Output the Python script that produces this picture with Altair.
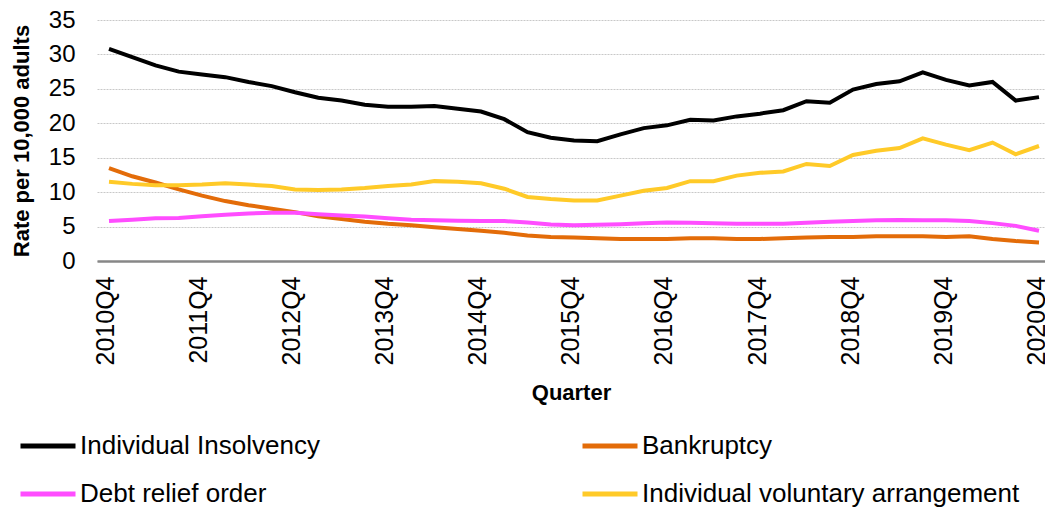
import altair as alt
import pandas as pd

# Quarters 2010Q4 .. 2020Q4
quarters = ["2010Q4"] + [f"{y}Q{q}" for y in range(2011, 2021) for q in (1, 2, 3, 4)]
tick_labels = ["2010Q4", "2011Q4", "2012Q4", "2013Q4", "2014Q4", "2015Q4",
               "2016Q4", "2017Q4", "2018Q4", "2019Q4", "2020Q4"]

series_names = ["Individual Insolvency", "Bankruptcy", "Debt relief order",
                "Individual voluntary arrangement"]
series_colors = ["#000000", "#E36C09", "#FF4DFF", "#FFCA28"]

insolvency = [30.8, 29.6, 28.4, 27.5, 27.1, 26.7, 26.0, 25.4, 24.5, 23.7,
              23.3, 22.7, 22.4, 22.4, 22.5, 22.1, 21.7, 20.6, 18.7, 17.9,
              17.5, 17.4, 18.4, 19.3, 19.7, 20.5, 20.4, 21.0, 21.4, 21.9,
              23.2, 23.0, 24.9, 25.7, 26.1, 27.4, 26.3, 25.5, 26.0, 23.3,
              23.8]
bankruptcy = [13.5, 12.3, 11.4, 10.4, 9.5, 8.7, 8.1, 7.6, 7.1, 6.5,
              6.1, 5.7, 5.4, 5.2, 4.9, 4.65, 4.4, 4.1, 3.7, 3.5,
              3.4, 3.3, 3.2, 3.2, 3.2, 3.3, 3.3, 3.2, 3.2, 3.3,
              3.4, 3.5, 3.5, 3.6, 3.6, 3.6, 3.5, 3.6, 3.2, 2.9,
              2.7]
dro = [5.8, 6.0, 6.2, 6.25, 6.5, 6.7, 6.9, 7.0, 7.0, 6.8,
       6.6, 6.45, 6.2, 6.0, 5.9, 5.85, 5.8, 5.8, 5.6, 5.3,
       5.2, 5.25, 5.35, 5.5, 5.6, 5.55, 5.5, 5.4, 5.4, 5.4,
       5.55, 5.7, 5.8, 5.9, 5.95, 5.9, 5.9, 5.8, 5.5, 5.1,
       4.4]
iva = [11.5, 11.2, 11.0, 11.0, 11.1, 11.3, 11.1, 10.9, 10.4, 10.3,
       10.4, 10.6, 10.9, 11.1, 11.6, 11.5, 11.3, 10.5, 9.3, 9.0,
       8.8, 8.8, 9.5, 10.2, 10.6, 11.6, 11.6, 12.4, 12.8, 13.0,
       14.1, 13.8, 15.4, 16.0, 16.4, 17.8, 16.9, 16.1, 17.2, 15.5,
       16.7]

rows = []
for name, vals in zip(series_names, [insolvency, bankruptcy, dro, iva]):
    for i, (q, v) in enumerate(zip(quarters, vals)):
        rows.append({"idx": i, "quarter": q, "series": name, "value": v})
df = pd.DataFrame(rows)

label_expr = "[" + ",".join(f"'{t}'" for t in tick_labels) + "][round(datum.value / 4)]"

FONT = "Liberation Sans"

chart = alt.Chart(df).mark_line(strokeWidth=4).encode(
    x=alt.X("idx:Q",
            scale=alt.Scale(domain=[-0.516, 40.258], nice=False, zero=False),
            axis=alt.Axis(title="Quarter", values=list(range(0, 41, 4)),
                          labelExpr=label_expr, labelAngle=270,
                          labelAlign="right", labelBaseline="middle",
                          labelPadding=15, labelFontSize=25, labelColor="#000000",
                          labelFont=FONT, labelOffset=-3, ticks=False, grid=False,
                          domainColor="#878787", domainWidth=2.6,
                          titleFont=FONT, titleFontSize=22, titleFontWeight="bold",
                          titleColor="#000000", titlePadding=18,
                          labelOverlap=False)),
    y=alt.Y("value:Q",
            scale=alt.Scale(domain=[0, 35], nice=False),
            axis=alt.Axis(title="Rate per 10,000 adults", values=list(range(0, 36, 5)),
                          labelFontSize=24, labelFont=FONT, labelColor="#000000",
                          labelPadding=22, ticks=False, domain=False,
                          grid=True, gridColor="#C8C8C8", gridDash=[2, 1], gridWidth=1,
                          titleFont=FONT, titleFontSize=22, titleFontWeight="bold",
                          titleColor="#000000", titlePadding=15)),
    color=alt.Color("series:N",
                    scale=alt.Scale(domain=series_names, range=series_colors),
                    legend=alt.Legend(title=None, orient="none", legendX=-79, legendY=396,
                                      direction="horizontal",
                                      columns=2, columnPadding=252, rowPadding=5,
                                      symbolType="stroke", symbolSize=3025,
                                      symbolStrokeWidth=5, labelOffset=2,
                                      labelFontSize=26, labelFont=FONT,
                                      labelColor="#000000", labelLimit=600)),
    order=alt.Order("idx:Q"),
).properties(
    width=948, height=241,
    autosize=alt.AutoSizeParams(type="none"),
    padding={"left": 89, "top": 12, "right": 0, "bottom": 247},
).configure_view(stroke=None)

chart.save("out.html", embed_options={"renderer": "svg", "actions": False})
